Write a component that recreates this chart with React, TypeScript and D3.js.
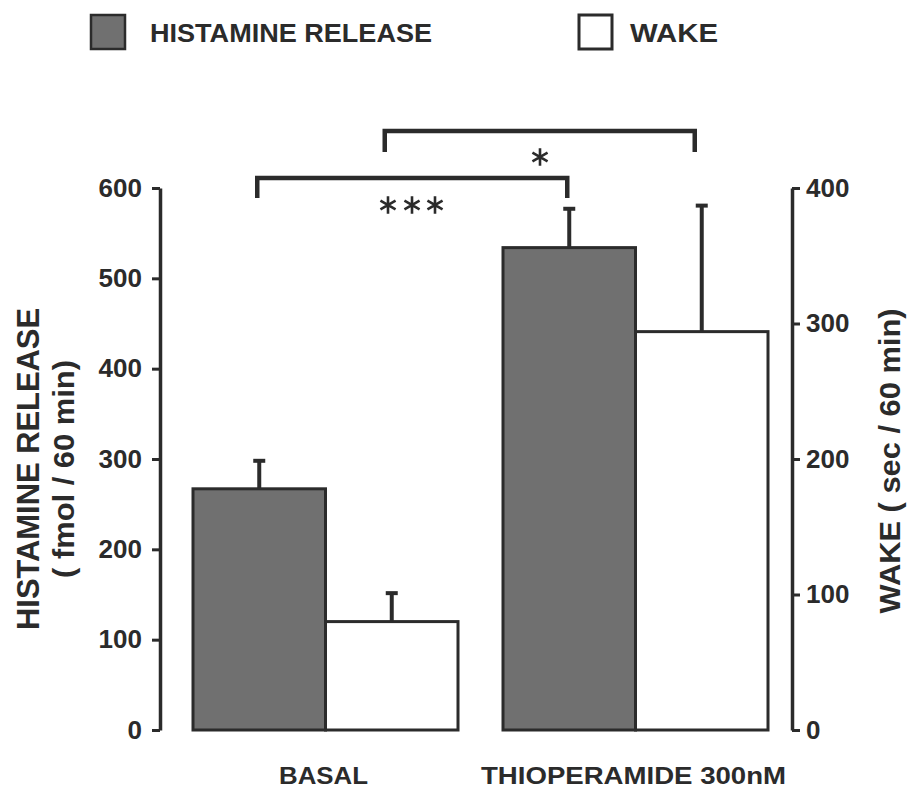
import React, { useRef, useEffect } from "react";
import * as d3 from "d3";

const categories = ["BASAL", "THIOPERAMIDE 300nM"];
const seriesKeys = ["histamine", "wake"];
const histamineMean = [267, 534];
const histamineErr = [31, 43];
const wakeMean = [80, 294];
const wakeErr = [21, 93];
const leftTicks = [0, 100, 200, 300, 400, 500, 600];
const rightTicks = [0, 100, 200, 300, 400];

const FONT = "'Liberation Sans', Arial, Helvetica, sans-serif";
const DARK = "#2b2b2b";

export default function App() {
  const ref = useRef<SVGSVGElement>(null);

  useEffect(() => {
    if (!ref.current) return;
    const svg = d3.select(ref.current);
    svg.selectAll("*").remove();

    const x0 = d3.scaleBand().domain(categories).range([193, 768]).paddingInner(45 / 310).paddingOuter(0);
    const x1 = d3.scaleBand().domain(seriesKeys).range([0, x0.bandwidth()]).padding(0);
    const yL = d3.scaleLinear().domain([0, 600]).range([730, 188]);
    const yR = d3.scaleLinear().domain([0, 400]).range([730, 188]);

    // text helper: size + stretched length to match the scan
    const label = (sel: any, size: number, len?: number) => {
      sel.style("font-family", FONT).style("font-weight", 700).style("font-size", `${size}px`).attr("fill", DARK);
      if (len) sel.attr("textLength", len).attr("lengthAdjust", "spacingAndGlyphs");
      return sel;
    };

    // legend
    const lg = svg.append("g");
    lg.append("rect").attr("x", 91).attr("y", 15).attr("width", 34).attr("height", 34)
      .attr("fill", "#707070").attr("stroke", DARK).attr("stroke-width", 2.5);
    label(lg.append("text").attr("x", 150).attr("y", 42).text("HISTAMINE RELEASE"), 25, 282);
    lg.append("rect").attr("x", 579).attr("y", 15).attr("width", 33).attr("height", 34)
      .attr("fill", "#fff").attr("stroke", DARK).attr("stroke-width", 3);
    label(lg.append("text").attr("x", 630).attr("y", 42).text("WAKE"), 25, 88);

    // bars
    const rows = categories.map((c, i) => ({
      cat: c,
      items: [
        { key: "histamine", v: histamineMean[i], e: histamineErr[i], y: yL },
        { key: "wake", v: wakeMean[i], e: wakeErr[i], y: yR },
      ],
    }));

    const groups = svg.selectAll("g.grp").data(rows).enter().append("g")
      .attr("class", "grp").attr("transform", d => `translate(${x0(d.cat)},0)`);

    // error bars (upper only)
    groups.selectAll("g.err").data(d => d.items).enter().append("g").attr("class", "err")
      .each(function (d) {
        const g = d3.select(this);
        const cx = x1(d.key)! + x1.bandwidth() / 2;
        g.append("line").attr("x1", cx).attr("x2", cx).attr("y1", d.y(d.v)).attr("y2", d.y(d.v + d.e))
          .attr("stroke", DARK).attr("stroke-width", 4);
        g.append("line").attr("x1", cx - 6).attr("x2", cx + 6).attr("y1", d.y(d.v + d.e)).attr("y2", d.y(d.v + d.e))
          .attr("stroke", DARK).attr("stroke-width", 4);
      });

    groups.selectAll("rect.bar").data(d => d.items).enter().append("rect").attr("class", "bar")
      .attr("x", d => x1(d.key)!)
      .attr("width", x1.bandwidth())
      .attr("y", d => d.y(d.v))
      .attr("height", d => d.y(0) - d.y(d.v))
      .attr("fill", d => d.key === "histamine" ? "#707070" : "#fff")
      .attr("stroke", DARK).attr("stroke-width", 3);

    // axes
    const axL = svg.append("g").attr("transform", "translate(160,0)")
      .call(d3.axisLeft(yL).tickValues(leftTicks).tickSize(8).tickSizeOuter(0).tickPadding(10));
    const axR = svg.append("g").attr("transform", "translate(792,0)")
      .call(d3.axisRight(yR).tickValues(rightTicks).tickSize(8).tickSizeOuter(0).tickPadding(6));
    [axL, axR].forEach(ax => {
      ax.select(".domain").attr("stroke", DARK).attr("stroke-width", 3.5);
      ax.selectAll(".tick line").attr("stroke", DARK).attr("stroke-width", 3);
      ax.selectAll(".tick text").attr("fill", DARK)
        .style("font-family", FONT).style("font-weight", 700).style("font-size", "26px");
    });

    // axis titles
    const title = (x: number, y: number, txt: string, size: number, len: number) =>
      label(svg.append("text").attr("transform", `translate(${x},${y}) rotate(-90)`)
        .attr("text-anchor", "middle").text(txt), size, len);
    title(39, 469, "HISTAMINE RELEASE", 32, 322);
    title(74, 469, "( fmol / 60 min)", 30, 218);
    title(900, 461, "WAKE ( sec / 60 min)", 30, 305);

    // category labels
    const catLen = [89, 305];
    categories.forEach((c, i) => {
      label(svg.append("text").attr("class", "cat")
        .attr("x", x0(c)! + x0.bandwidth() / 2 - 2).attr("y", 784)
        .attr("text-anchor", "middle").text(c), 24, catLen[i]);
    });

    // significance brackets
    const cx = (cat: string, key: string) => x0(cat)! + x1(key)! + x1.bandwidth() / 2;
    const bracket = (xa: number, xb: number, yTop: number, yBot: number) =>
      svg.append("path").attr("d", `M${xa},${yBot}V${yTop}H${xb}V${yBot}`)
        .attr("fill", "none").attr("stroke", DARK).attr("stroke-width", 4.5);
    bracket(cx(categories[0], "histamine") - 2, cx(categories[1], "histamine") - 2, 178, 198);
    bracket(cx(categories[0], "wake") - 7, cx(categories[1], "wake") - 7, 131, 152);

    const star = d3.symbol().type(d3.symbolAsterisk).size(215);
    const stars = [
      { x: 388, y: 205 }, { x: 412, y: 205 }, { x: 435, y: 205 },
      { x: 540, y: 157 },
    ];
    svg.selectAll("path.star").data(stars).enter().append("path").attr("class", "star")
      .attr("transform", d => `translate(${d.x},${d.y})`)
      .attr("d", star()!)
      .attr("fill", "none").attr("stroke", DARK).attr("stroke-width", 2.6);
  }, []);

  return (
    <svg ref={ref} width={908} height={790}
      style={{ position: "absolute", left: 0, top: 0, background: "#fff" }} />
  );
}
